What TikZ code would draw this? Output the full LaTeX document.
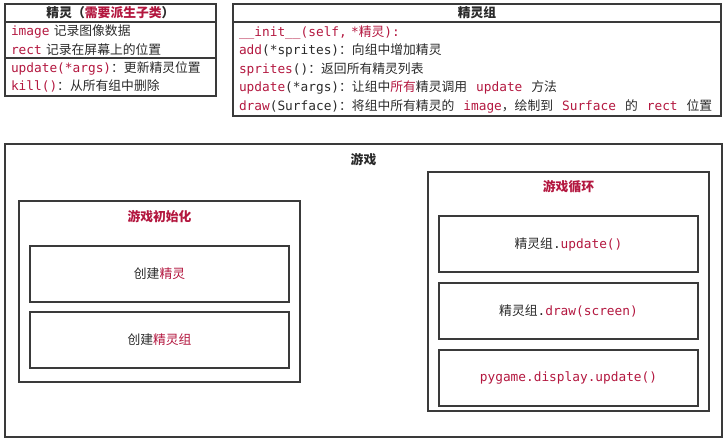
\documentclass[tikz,border=0pt]{standalone}
\usepackage{fontspec}
\setmainfont{Noto Sans CJK SC}
\setmonofont{DejaVu Sans Mono}
\usetikzlibrary{positioning}
\definecolor{codered}{HTML}{B3173F}
\definecolor{boxline}{HTML}{3A3A3A}
\definecolor{ink}{HTML}{2A2A2A}
\newcommand{\cd}[1]{\texttt{#1}}
\newcommand{\rd}[1]{\textcolor{codered}{#1}}
\newcommand{\gap}{\hspace{9pt}}

\begin{document}
\begin{tikzpicture}[x=1pt,y=-1pt,
    font=\fontsize{12.8}{18.5}\selectfont, text=ink,
    frame/.style={draw=boxline,line width=1.2pt,outer sep=0pt,inner sep=0pt,anchor=north west},
    umlrow/.style={frame,inner xsep=6pt,align=left},
    stepbox/.style={frame,minimum width=259pt,minimum height=56pt,anchor=north,font=\fontsize{12.8}{15}\selectfont},
    heading/.style={font=\fontsize{12.8}{15}\bfseries}]
  \useasboundingbox (0,0) rectangle (727,440);

  % class Sprite
  \node[umlrow,minimum width=211pt,minimum height=18pt,text width=199pt,align=center,font=\fontsize{12.8}{15}\bfseries] (spritehead) at (5,4)
    {精灵（\rd{需要派生子类}）};
  \node[umlrow,minimum width=211pt,minimum height=36pt,text width=199pt,below=0pt of spritehead] (spriteattr)
    {\rd{\cd{image}} 记录图像数据\\\rd{\cd{rect}} 记录在屏幕上的位置};
  \node[umlrow,minimum width=211pt,minimum height=38pt,text width=199pt,below=0pt of spriteattr] (spriteops)
    {\rd{\cd{update(*args)}}：更新精灵位置\\\rd{\cd{kill()}}：从所有组中删除};

  % class Group
  \node[umlrow,minimum width=488pt,minimum height=18pt,text width=476pt,align=center,font=\fontsize{12.8}{15}\bfseries] (grouphead) at (233,4)
    {精灵组};
  \node[umlrow,minimum width=488pt,minimum height=94pt,text width=476pt,below=0pt of grouphead] (groupops)
    {\rd{\cd{\_\_init\_\_(self, *}精灵\cd{):}}\\
     \rd{\cd{add}}\cd{(*sprites)}：向组中增加精灵\\
     \rd{\cd{sprites}}\cd{()}：返回所有精灵列表\\
     \mbox{\rd{\cd{update}}\cd{(*args)}：让组中\rd{所有}精灵调用\gap\rd{\cd{update}}\gap 方法}\\
     \mbox{\rd{\cd{draw}}\cd{(Surface)}：将组中所有精灵的\gap\rd{\cd{image}}，绘制到\gap\rd{\cd{Surface}}\gap 的\gap\rd{\cd{rect}}\gap 位置}};

  % game
  \node[frame,minimum width=717pt,minimum height=293pt] (game) at (5,144) {};
  \node[heading] (gametitle) at (363.5,160) {游戏};

  % init
  \node[frame,minimum width=281pt,minimum height=181pt] (init) at (19,201) {};
  \node[heading,text=codered] (inittitle) at (159.5,217) {游戏初始化};
  \node[stepbox,below=45pt of init.north] (mksprite) {创建\rd{精灵}};
  \node[stepbox,below=10pt of mksprite] (mkgroup) {创建\rd{精灵组}};

  % loop
  \node[frame,minimum width=281pt,minimum height=239pt] (loop) at (428,172) {};
  \node[heading,text=codered] (looptitle) at (568.5,187) {游戏循环};
  \node[stepbox,below=44pt of loop.north] (doupdate) {精灵组\cd{.\rd{update()}}};
  \node[stepbox,below=11pt of doupdate] (dodraw) {精灵组\cd{.\rd{draw(screen)}}};
  \node[stepbox,below=11pt of dodraw] (doflip) {\cd{\rd{pygame.display.update()}}};
\end{tikzpicture}
\end{document}
